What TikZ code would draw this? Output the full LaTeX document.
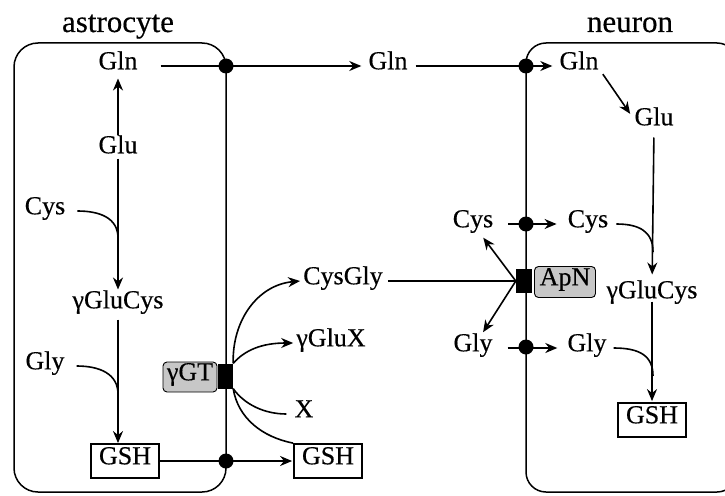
\documentclass[tikz,border=0pt]{standalone}
\usepackage{fontspec}
\setmainfont{Liberation Serif}[UprightFeatures={FakeBold=0.4}]
\usetikzlibrary{arrows.meta}
\begin{document}
\begin{tikzpicture}[x=1pt,y=-1pt,
  every node/.style={font=\fontsize{26}{30}\selectfont},
  lbl/.style={inner sep=3pt, text height=0.66em, text depth=0pt},
  title/.style={font=\fontsize{31}{36}\selectfont, anchor=base, inner sep=0pt},
  cell/.style={draw, line width=1.5pt, rounded corners=24pt},
  conn/.style={line width=1.6pt},
  arr/.style={conn, -{Stealth[length=12pt,width=10pt]}},
  dotm/.style={circle, fill=black, inner sep=0pt, minimum size=15pt},
  gshbox/.style={draw, line width=1.8pt, inner sep=0pt, minimum width=68pt, minimum height=34pt, text height=0.66em, text depth=0pt},
  enz/.style={draw, line width=0.9pt, fill=black!22, rounded corners=4pt, inner sep=0pt, text height=0.66em, text depth=0pt},
  chan/.style={fill=black, inner sep=0pt}
]
\useasboundingbox (0,0) rectangle (725,495);
\clip (0,0) rectangle (725,495);
% cells
\draw[cell] (14,43) rectangle (226,492);
\draw[cell, rounded corners=20pt] (526,43) rectangle (737,492);
\node[title] (tA) at (118,32) {astrocyte};
\node[title] (tN) at (630,32) {neuron};
% astrocyte
\node[lbl] (GlnA) at (118,66) {Gln};
\node[lbl] (GluA) at (118,150) {Glu};
\node[lbl] (CysA) at (45,211) {Cys};
\node[lbl] (GGCA) at (118,305) {γGluCys};
\node[lbl] (GlyA) at (45,366) {Gly};
\node[gshbox] (GSHA) at (125,461) {GSH};
% extracellular
\node[lbl] (GlnM) at (388,66) {Gln};
\node[lbl] (CysGly) at (343,281) {CysGly};
\node[lbl] (GGX) at (331,343) {γGluX};
\node[lbl] (X) at (304,414) {X};
\node[gshbox] (GSHO) at (328,461) {GSH};
\node[lbl] (CysO) at (473,224) {Cys};
\node[lbl] (GlyO) at (473,348) {Gly};
% neuron
\node[lbl] (GlnN) at (579,66) {Gln};
\node[lbl] (GluN) at (654,122) {Glu};
\node[lbl] (CysN) at (588,224) {Cys};
\node[lbl] (GGCN) at (652,295) {γGluCys};
\node[lbl] (GlyN) at (587,348) {Gly};
\node[gshbox] (GSHN) at (652,420) {GSH};
% enzymes
\node[chan, minimum width=15pt, minimum height=25pt] (gtb) at (225.5,376) {};
\node[enz, minimum width=54pt, minimum height=30pt] (gt) at (190,377) {γGT};
\node[chan, minimum width=16pt, minimum height=24pt] (ab) at (524,281) {};
\node[enz, minimum width=61pt, minimum height=31pt] (apn) at (565,282) {ApN};
% astrocyte pathway
\draw[arr, shorten <=9pt, shorten >=6pt] (GluA.north) -- (GlnA.south);
\draw[arr, shorten <=2pt, shorten >=9pt] (GluA.south) -- (GGCA.north);
\draw[conn, shorten <=9pt] (CysA.east) .. controls (100,211) and (118,218) .. (118,238);
\draw[arr, shorten <=8pt] (GGCA.south) -- (GGCA.south |- GSHA.north);
\draw[conn, shorten <=9pt] (GlyA.east) .. controls (100,366) and (118,374) .. (118,394);
% transport
\draw[arr, shorten <=20pt, shorten >=4pt] (GlnA.east) -- (GlnM.west);
\draw[arr, shorten <=5pt, shorten >=4pt] (GlnM.east) -- (GlnN.west);
\draw[arr, shorten >=1pt] (GSHA.east) -- (GSHO.west);
\draw[arr, shorten <=12pt, shorten >=8pt] (CysO.east) -- (CysN.west);
\draw[arr, shorten <=12pt, shorten >=7pt] (GlyO.east) -- (GlyN.west);
% membranes
\node[dotm] (d1) at (226,66) {};
\node[dotm] (d2) at (226,461) {};
\node[dotm] (d3) at (526,66) {};
\node[dotm] (d4) at (526,224) {};
\node[dotm] (d5) at (526,347) {};
% gammaGT reactions
\draw[arr] (gtb.north east) .. controls (232,320) and (258,285) .. (CysGly.west);
\draw[arr] (gtb.north east) .. controls (245,350) and (262,343) .. (GGX.west);
\draw[conn, shorten >=5pt] (gtb.south east) .. controls (245,405) and (265,414) .. (X.west);
\draw[conn] (gtb.south east) .. controls (238,418) and (262,437) .. (GSHO.north west);
% ApN
\draw[conn, shorten <=2pt] (CysGly.east) -- (ab.west);
\draw[arr, shorten >=9pt] (ab.west) -- (CysO);
\draw[arr, shorten >=11pt] (ab.west) -- (GlyO);
% neuron pathway
\draw[arr, shorten <=2pt, shorten >=2pt] (GlnN.south east) -- (GluN.north west);
\draw[arr, shorten <=9pt, shorten >=14pt] (GluN.south) -- (GGCN.north);
\draw[conn, shorten <=5pt] (CysN.east) .. controls (640,224) and (653,232) .. (653,252);
\draw[arr, shorten >=1pt] (GGCN.south) -- (GGCN.south |- GSHN.north);
\draw[conn, shorten <=4pt] (GlyN.east) .. controls (640,348) and (653,356) .. (653,376);
\end{tikzpicture}
\end{document}
